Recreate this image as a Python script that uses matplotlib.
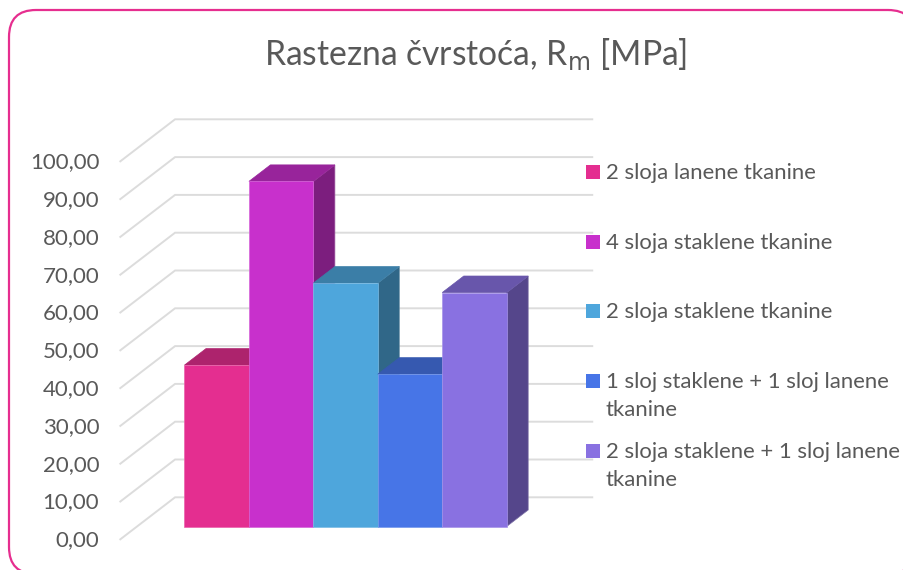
import matplotlib
matplotlib.use("Agg")
import matplotlib.pyplot as plt
from matplotlib.patches import FancyBboxPatch, Polygon, Rectangle
from matplotlib.colors import to_rgb

series_names = ["2 sloja lanene tkanine", "4 sloja staklene tkanine", "2 sloja staklene tkanine",
                "1 sloj staklene + 1 sloj lanene\ntkanine", "2 sloja staklene + 1 sloj lanene\ntkanine"]
values = [42.7, 91.3, 64.4, 40.3, 61.9]
colors = ["#E42E90", "#C830CC", "#4EA6DC", "#4775E7", "#8971E1"]
ticks = [0, 10, 20, 30, 40, 50, 60, 70, 80, 90, 100]
title_text = "Rastezna čvrstoća, R$_{\\mathrm{m}}$ [MPa]"

W, H = 904, 570
plt.rcParams["font.family"] = ["Lato", "DejaVu Sans"]
plt.rcParams["mathtext.default"] = "regular"
TXT = "#595959"
GRID = "#DCDCDC"

fig = plt.figure(figsize=(W / 100, H / 100), dpi=100, facecolor="white")

# back layer in pixel units: rounded frame
back = fig.add_axes([0, 0, 1, 1], zorder=1)
back.set_xlim(0, W)
back.set_ylim(H, 0)
back.axis("off")
back.add_patch(FancyBboxPatch((34, 35), 856, 514, boxstyle="round,pad=25,rounding_size=27",
                              fc="white", ec="#E62E8F", lw=1.6, clip_on=True))

# page layer in pixel units: title, legend
page = fig.add_axes([0, 0, 1, 1], zorder=3)
page.set_xlim(0, W)
page.set_ylim(H, 0)
page.axis("off")
page.text(476, 55, title_text, ha="center", va="center", fontsize=24.2, color=TXT)

rows = [165, 235, 304, 374, 444]
for name, c, top in zip(series_names, colors, rows):
    page.add_patch(Rectangle((586, top), 14, 14, fc=c, ec="none"))
    page.text(606, top - 2, name, ha="left", va="top", fontsize=15.9, color=TXT, linespacing=1.5)

# chart layer: x = category position, y = value; depth is an oblique offset
PX_PER_CAT = 64.44
PX_PER_VAL = 3.78
X0, Y0 = 184.5, 526.5
DEPTH_X = 21.5 / PX_PER_CAT
DEPTH_Y = 16.5 / PX_PER_VAL
ax = fig.add_axes([0, 0, 1, 1], zorder=2)
ax.patch.set_alpha(0)
ax.set_xlim(-X0 / PX_PER_CAT, (W - X0) / PX_PER_CAT)
ax.set_ylim((Y0 - H) / PX_PER_VAL, Y0 / PX_PER_VAL)
ax.axis("off")


def proj(x, v, d=0.0):
    return x + d * DEPTH_X, v + d * DEPTH_Y


WALL_L, WALL_R = -0.737, 5.737
D_FRONT, D_BACK = -0.776, 1.77
for t in ticks:
    pts = [proj(WALL_L, t, D_FRONT), proj(WALL_L, t, D_BACK), proj(WALL_R, t, D_BACK)]
    ax.plot(*zip(*pts), color=GRID, lw=1.4, solid_joinstyle="miter", zorder=1)
    fx, fy = proj(WALL_L, t, D_FRONT)
    ax.annotate(f"{t},00", (fx, fy), xytext=(-21, -1), textcoords="offset pixels",
                ha="right", va="center", fontsize=16, color=TXT)


def shade(c, f):
    return tuple(ch * f for ch in to_rgb(c))


def light(c):
    return tuple(ch + (1 - ch) * 0.25 for ch in to_rgb(c))


for i, (v, c) in enumerate(zip(values, colors)):
    l, r = i, i + 1
    z = 3 + i
    ax.add_patch(Polygon([proj(r, 0), proj(r, v), proj(r, v, 1), proj(r, 0, 1)],
                         fc=shade(c, 0.62), ec=light(shade(c, 0.62)), lw=0.5, zorder=z))
    ax.add_patch(Polygon([proj(l, v), proj(r, v), proj(r, v, 1), proj(l, v, 1)],
                         fc=shade(c, 0.76), ec=shade(c, 0.76), lw=0.5, zorder=z))
    ax.add_patch(Polygon([proj(l, 0), proj(r, 0), proj(r, v), proj(l, v)],
                         fc=c, ec=light(c), lw=0.5, zorder=z))

fig.savefig("out.png", dpi=100)
